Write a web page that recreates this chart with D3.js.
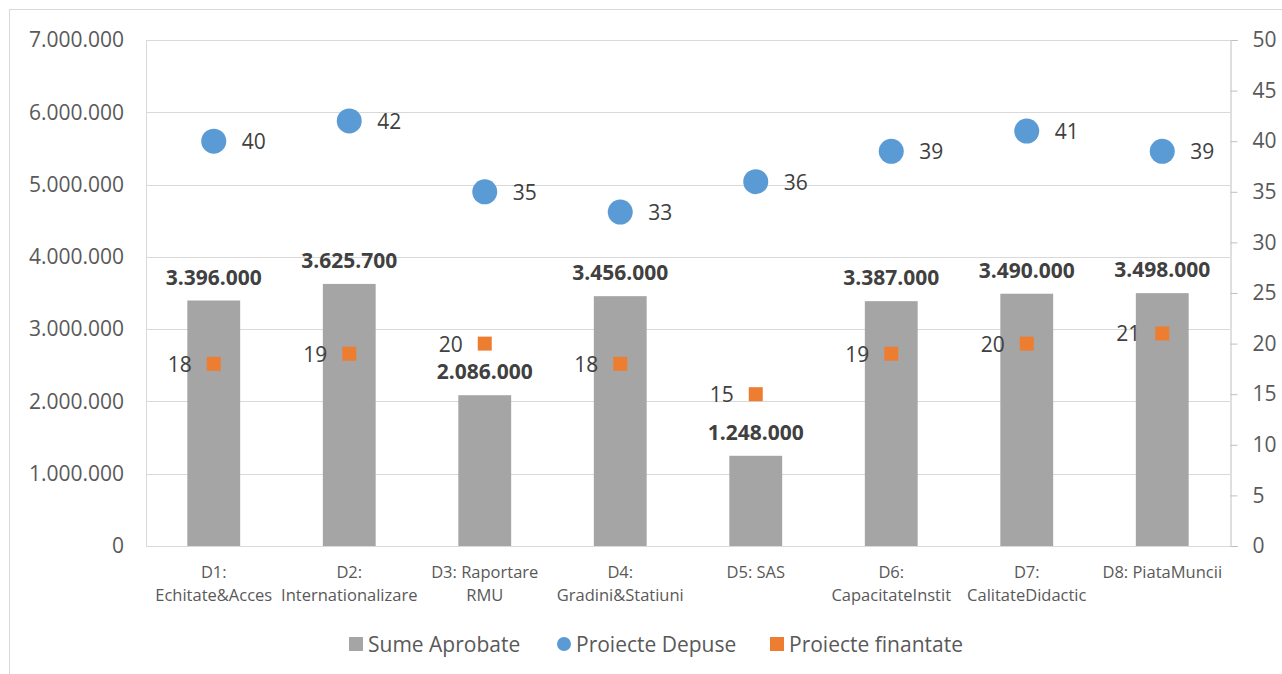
<!DOCTYPE html>
<html lang="ro">
<head>
  <meta charset="UTF-8" />
  <script src="https://d3js.org/d3.v7.min.js"></script>
  <style>
    body { margin: 0; background: #fff; }
    svg text { font-family: "Open Sans", "Noto Sans", sans-serif; }
  </style>
</head>
<body>
  <div id="chart"></div>
  <script>
    const categories = [
      ["D1:", "Echitate&Acces"],
      ["D2:", "Internationalizare"],
      ["D3: Raportare", "RMU"],
      ["D4:", "Gradini&Statiuni"],
      ["D5: SAS"],
      ["D6:", "CapacitateInstit"],
      ["D7:", "CalitateDidactic"],
      ["D8: PiataMuncii"]
    ];
    const sumeAprobate = [3396000, 3625700, 2086000, 3456000, 1248000, 3387000, 3490000, 3498000];
    const proiecteDepuse = [40, 42, 35, 33, 36, 39, 41, 39];
    const proiecteFinantate = [18, 19, 20, 18, 15, 19, 20, 21];
    const leftTicks = [0, 1000000, 2000000, 3000000, 4000000, 5000000, 6000000, 7000000];
    const rightTicks = [0, 5, 10, 15, 20, 25, 30, 35, 40, 45, 50];

    const width = 1282, height = 674;
    const margin = { top: 40, right: 52, bottom: 128, left: 146 };

    const fmt = v => d3.format(",")(v).replace(/,/g, ".");

    const svg = d3.select("#chart").append("svg")
      .attr("width", width)
      .attr("height", height);

    // outer frame
    svg.append("rect")
      .attr("x", 9.5).attr("y", 9.5)
      .attr("width", width).attr("height", height)
      .attr("fill", "none")
      .attr("stroke", "#d9d9d9");

    const x = d3.scaleBand()
      .domain(d3.range(categories.length))
      .range([margin.left, width - margin.right])
      .paddingInner(0.61).paddingOuter(0.305);

    const y = d3.scaleLinear()
      .domain([0, 7000000])
      .range([height - margin.bottom, margin.top]);

    const y2 = d3.scaleLinear()
      .domain([0, 50])
      .range([height - margin.bottom, margin.top]);

    const cx = i => x(i) + x.bandwidth() / 2;

    // grid
    svg.append("g").selectAll("line")
      .data(leftTicks)
      .join("line")
      .attr("x1", margin.left).attr("x2", width - margin.right)
      .attr("y1", d => Math.round(y(d)) + 0.5).attr("y2", d => Math.round(y(d)) + 0.5)
      .attr("stroke", "#d9d9d9");

    svg.append("line")
      .attr("x1", margin.left + 0.5).attr("x2", margin.left + 0.5)
      .attr("y1", margin.top).attr("y2", height - margin.bottom)
      .attr("stroke", "#d9d9d9");

    // left axis
    const gl = svg.append("g")
      .attr("transform", `translate(${margin.left},0)`)
      .call(d3.axisLeft(y).tickValues(leftTicks).tickFormat(fmt).tickSize(0).tickPadding(22));
    gl.select(".domain").remove();
    gl.selectAll("text").attr("fill", "#595959").attr("font-size", "21px");

    // right axis
    const gr = svg.append("g")
      .attr("transform", `translate(${width - margin.right + 0.5},0)`)
      .call(d3.axisRight(y2).tickValues(rightTicks).tickSize(7).tickPadding(15));
    gr.select(".domain").attr("stroke", "#bfbfbf");
    gr.selectAll("line").attr("stroke", "#bfbfbf");
    gr.selectAll("text").attr("fill", "#595959").attr("font-size", "21px");

    // bars
    svg.append("g").selectAll("rect")
      .data(sumeAprobate)
      .join("rect")
      .attr("x", (d, i) => x(i))
      .attr("y", d => y(d))
      .attr("width", x.bandwidth())
      .attr("height", d => y(0) - y(d))
      .attr("fill", "#a5a5a5");

    svg.append("g").selectAll("text")
      .data(sumeAprobate)
      .join("text")
      .attr("x", (d, i) => cx(i))
      .attr("y", d => y(d) - 16)
      .attr("text-anchor", "middle")
      .attr("font-size", "21px")
      .attr("font-weight", "bold")
      .attr("fill", "#404040")
      .text(fmt);

    // category labels
    const cat = svg.append("g").selectAll("text")
      .data(categories)
      .join("text")
      .attr("x", (d, i) => cx(i))
      .attr("y", height - margin.bottom + 32)
      .attr("text-anchor", "middle")
      .attr("font-size", "16.5px")
      .attr("fill", "#595959");
    cat.selectAll("tspan")
      .data(d => d)
      .join("tspan")
      .attr("x", function () { return d3.select(this.parentNode).attr("x"); })
      .attr("dy", (d, i) => i === 0 ? 0 : 23)
      .text(d => d);

    // proiecte depuse
    svg.append("g").selectAll("circle")
      .data(proiecteDepuse)
      .join("circle")
      .attr("cx", (d, i) => cx(i))
      .attr("cy", d => y2(d))
      .attr("r", 12.5)
      .attr("fill", "#5b9bd5");

    svg.append("g").selectAll("text")
      .data(proiecteDepuse)
      .join("text")
      .attr("x", (d, i) => cx(i) + 28)
      .attr("y", d => y2(d) + 8)
      .attr("font-size", "21px")
      .attr("fill", "#404040")
      .text(d => d);

    // proiecte finantate
    svg.append("g").selectAll("rect")
      .data(proiecteFinantate)
      .join("rect")
      .attr("x", (d, i) => cx(i) - 7)
      .attr("y", d => y2(d) - 7)
      .attr("width", 14).attr("height", 14)
      .attr("fill", "#ed7d31");

    svg.append("g").selectAll("text")
      .data(proiecteFinantate)
      .join("text")
      .attr("x", (d, i) => cx(i) - 22)
      .attr("y", d => y2(d) + 8)
      .attr("text-anchor", "end")
      .attr("font-size", "21px")
      .attr("fill", "#404040")
      .text(d => d);

    // legend
    const legendItems = [
      { name: "Sume Aprobate", shape: "square", color: "#a5a5a5", x: 349 },
      { name: "Proiecte Depuse", shape: "circle", color: "#5b9bd5", x: 557 },
      { name: "Proiecte finantate", shape: "square", color: "#ed7d31", x: 770 }
    ];
    const lg = svg.append("g").selectAll("g")
      .data(legendItems)
      .join("g")
      .attr("transform", d => `translate(${d.x},644)`);
    lg.filter(d => d.shape === "square").append("rect")
      .attr("x", 0).attr("y", -7).attr("width", 14).attr("height", 14)
      .attr("fill", d => d.color);
    lg.filter(d => d.shape === "circle").append("circle")
      .attr("cx", 7).attr("cy", 0).attr("r", 7)
      .attr("fill", d => d.color);
    lg.append("text")
      .attr("x", 19).attr("y", 8)
      .attr("font-size", "21px")
      .attr("fill", "#595959")
      .text(d => d.name);
  </script>
</body>
</html>
